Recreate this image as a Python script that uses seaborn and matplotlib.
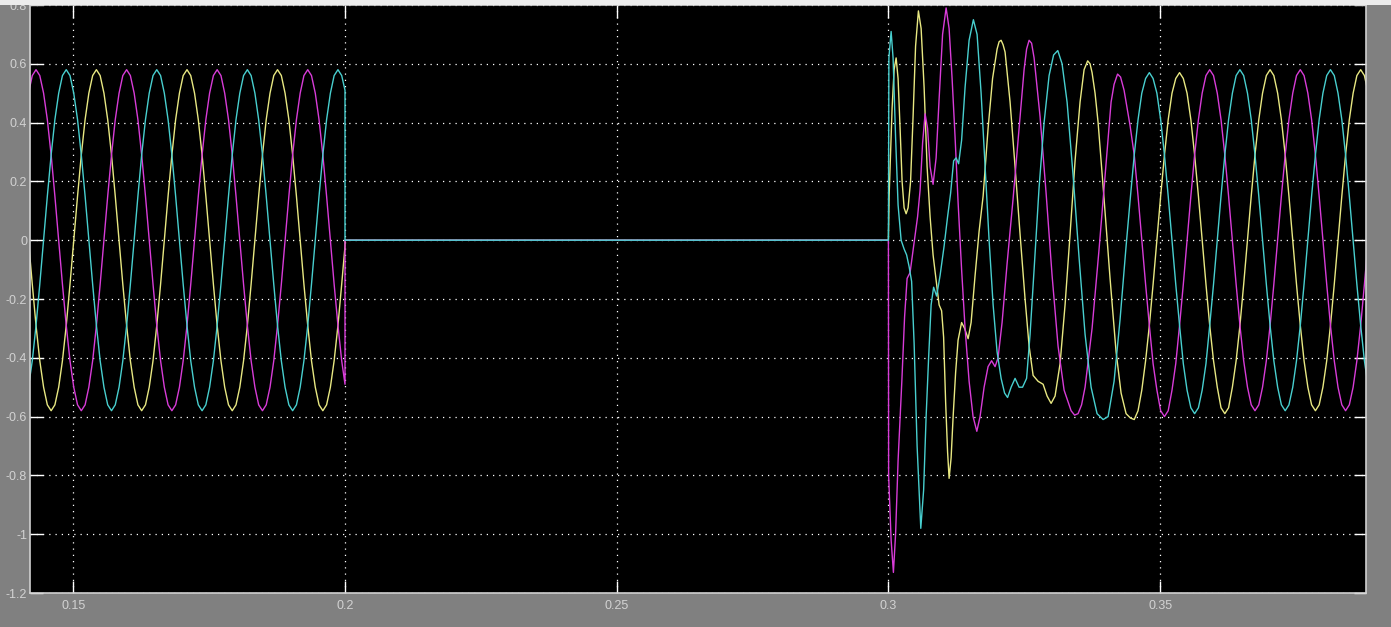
import numpy as np
import pandas as pd
import matplotlib
matplotlib.use('Agg')
import matplotlib.pyplot as plt
from matplotlib.patches import Rectangle
import seaborn as sns

# 故障前稳态采样 (s)
t_pre = [0.14175, 0.14245, 0.14314, 0.14383, 0.14453, 0.14522, 0.14592, 0.14661, 0.14731, 0.14800,
         0.14870, 0.14939, 0.15008, 0.15078, 0.15147, 0.15217, 0.15286, 0.15356, 0.15425, 0.15494,
         0.15564, 0.15633, 0.15703, 0.15772, 0.15842, 0.15911, 0.15981, 0.16050, 0.16120, 0.16189,
         0.16258, 0.16328, 0.16397, 0.16467, 0.16536, 0.16606, 0.16675, 0.16744, 0.16814, 0.16883,
         0.16953, 0.17022, 0.17092, 0.17161, 0.17231, 0.17300, 0.17370, 0.17439, 0.17508, 0.17578,
         0.17647, 0.17717, 0.17786, 0.17856, 0.17925, 0.17994, 0.18064, 0.18133, 0.18203, 0.18272,
         0.18342, 0.18411, 0.18481, 0.18550, 0.18620, 0.18689, 0.18758, 0.18828, 0.18897, 0.18967,
         0.19036, 0.19106, 0.19175, 0.19244, 0.19314, 0.19383, 0.19453, 0.19522, 0.19592, 0.19661,
         0.19731, 0.19800, 0.19870, 0.19939]
yellow_pre = [0.00, -0.15, -0.29, -0.41, -0.50, -0.56, -0.58, -0.56, -0.50, -0.41,
              -0.29, -0.15, 0.00, 0.15, 0.29, 0.41, 0.50, 0.56, 0.58, 0.56,
              0.50, 0.41, 0.29, 0.15, 0.00, -0.15, -0.29, -0.41, -0.50, -0.56,
              -0.58, -0.56, -0.50, -0.41, -0.29, -0.15, 0.00, 0.15, 0.29, 0.41,
              0.50, 0.56, 0.58, 0.56, 0.50, 0.41, 0.29, 0.15, 0.00, -0.15,
              -0.29, -0.41, -0.50, -0.56, -0.58, -0.56, -0.50, -0.41, -0.29, -0.15,
              0.00, 0.15, 0.29, 0.41, 0.50, 0.56, 0.58, 0.56, 0.50, 0.41,
              0.29, 0.15, 0.00, -0.15, -0.29, -0.41, -0.50, -0.56, -0.58, -0.56,
              -0.50, -0.41, -0.29, -0.15]
magenta_pre = [0.50, 0.56, 0.58, 0.56, 0.50, 0.41, 0.29, 0.15, 0.00, -0.15,
               -0.29, -0.41, -0.50, -0.56, -0.58, -0.56, -0.50, -0.41, -0.29, -0.15,
               0.00, 0.15, 0.29, 0.41, 0.50, 0.56, 0.58, 0.56, 0.50, 0.41,
               0.29, 0.15, 0.00, -0.15, -0.29, -0.41, -0.50, -0.56, -0.58, -0.56,
               -0.50, -0.41, -0.29, -0.15, 0.00, 0.15, 0.29, 0.41, 0.50, 0.56,
               0.58, 0.56, 0.50, 0.41, 0.29, 0.15, 0.00, -0.15, -0.29, -0.41,
               -0.50, -0.56, -0.58, -0.56, -0.50, -0.41, -0.29, -0.15, 0.00, 0.15,
               0.29, 0.41, 0.50, 0.56, 0.58, 0.56, 0.50, 0.41, 0.29, 0.15,
               0.00, -0.15, -0.29, -0.41]
cyan_pre = [-0.50, -0.41, -0.29, -0.15, 0.00, 0.15, 0.29, 0.41, 0.50, 0.56,
            0.58, 0.56, 0.50, 0.41, 0.29, 0.15, 0.00, -0.15, -0.29, -0.41,
            -0.50, -0.56, -0.58, -0.56, -0.50, -0.41, -0.29, -0.15, 0.00, 0.15,
            0.29, 0.41, 0.50, 0.56, 0.58, 0.56, 0.50, 0.41, 0.29, 0.15,
            0.00, -0.15, -0.29, -0.41, -0.50, -0.56, -0.58, -0.56, -0.50, -0.41,
            -0.29, -0.15, 0.00, 0.15, 0.29, 0.41, 0.50, 0.56, 0.58, 0.56,
            0.50, 0.41, 0.29, 0.15, 0.00, -0.15, -0.29, -0.41, -0.50, -0.56,
            -0.58, -0.56, -0.50, -0.41, -0.29, -0.15, 0.00, 0.15, 0.29, 0.41,
            0.50, 0.56, 0.58, 0.56]

# 故障开始 / 切除时刻
T_FAULT = 0.2
T_CLEAR = 0.3
yellow_at_fault = -0.02
magenta_at_fault = -0.49
cyan_at_fault = 0.51

# 故障切除后的暂态过程
t_tr_yellow = [0.30013, 0.30068, 0.30105, 0.30142, 0.30178, 0.30215, 0.30252, 0.30289, 0.30326, 0.30362,
               0.30408, 0.30454, 0.30500, 0.30552, 0.30602, 0.30657, 0.30712, 0.30767, 0.30822, 0.30887,
               0.30933, 0.30979, 0.31016, 0.31053, 0.31089, 0.31117, 0.31154, 0.31191, 0.31237, 0.31282,
               0.31347, 0.31402, 0.31467, 0.31522, 0.31595, 0.31669, 0.31743, 0.31834, 0.31917, 0.32000,
               0.32037, 0.32074, 0.32110, 0.32147, 0.32239, 0.32331, 0.32423, 0.32515, 0.32589, 0.32663,
               0.32755, 0.32847, 0.32920, 0.32994, 0.33067, 0.33159, 0.33251, 0.33343, 0.33435, 0.33527,
               0.33601, 0.33667, 0.33711, 0.33748, 0.33803, 0.33859, 0.33969, 0.34079, 0.34190, 0.34282,
               0.34374, 0.34455]
v_tr_yellow = [0.15, 0.45, 0.58, 0.62, 0.55, 0.38, 0.20, 0.11, 0.09, 0.11,
               0.20, 0.42, 0.66, 0.78, 0.72, 0.52, 0.25, 0.08, -0.05, -0.15,
               -0.22, -0.24, -0.33, -0.55, -0.72, -0.81, -0.74, -0.60, -0.45, -0.34,
               -0.28, -0.30, -0.335, -0.28, -0.12, 0.03, 0.15, 0.38, 0.55, 0.65,
               0.675, 0.68, 0.665, 0.64, 0.47, 0.25, 0.02, -0.20, -0.36, -0.46,
               -0.48, -0.49, -0.53, -0.555, -0.53, -0.42, -0.22, 0.02, 0.27, 0.47,
               0.58, 0.61, 0.60, 0.57, 0.50, 0.40, 0.14, -0.13, -0.38, -0.52,
               -0.59, -0.605]

t_tr_magenta = [0.30004, 0.30050, 0.30092, 0.30132, 0.30178, 0.30247, 0.30298, 0.30344, 0.30399, 0.30464,
                0.30537, 0.30583, 0.30629, 0.30675, 0.30721, 0.30767, 0.30822, 0.30878, 0.30933, 0.30997,
                0.31062, 0.31117, 0.31172, 0.31227, 0.31282, 0.31347, 0.31411, 0.31485, 0.31558, 0.31627,
                0.31687, 0.31761, 0.31834, 0.31899, 0.31963, 0.32018, 0.32092, 0.32184, 0.32294, 0.32405,
                0.32497, 0.32543, 0.32589, 0.32635, 0.32681, 0.32791, 0.32902, 0.33012, 0.33122, 0.33233,
                0.33362, 0.33426, 0.33490, 0.33555, 0.33619, 0.33748, 0.33877, 0.33987, 0.34098, 0.34153,
                0.34217, 0.34272, 0.34337, 0.34447]
v_tr_magenta = [-0.80, -1.02, -1.13, -1.00, -0.75, -0.48, -0.26, -0.13, -0.11, -0.02,
                0.08, 0.17, 0.33, 0.43, 0.38, 0.25, 0.19, 0.28, 0.48, 0.70,
                0.79, 0.72, 0.55, 0.35, 0.13, -0.10, -0.30, -0.48, -0.60, -0.65,
                -0.60, -0.50, -0.43, -0.41, -0.43, -0.40, -0.28, -0.08, 0.14, 0.38,
                0.58, 0.65, 0.68, 0.67, 0.62, 0.42, 0.16, -0.12, -0.36, -0.51,
                -0.58, -0.595, -0.59, -0.56, -0.50, -0.30, -0.03, 0.22, 0.47, 0.53,
                0.565, 0.555, 0.51, 0.39]

t_tr_cyan = [0.30009, 0.30050, 0.30086, 0.30132, 0.30178, 0.30234, 0.30289, 0.30335, 0.30381, 0.30427,
             0.30473, 0.30528, 0.30596, 0.30648, 0.30694, 0.30740, 0.30786, 0.30832, 0.30887, 0.30951,
             0.31025, 0.31089, 0.31145, 0.31200, 0.31246, 0.31292, 0.31347, 0.31411, 0.31485, 0.31564,
             0.31632, 0.31706, 0.31779, 0.31853, 0.31927, 0.32000, 0.32074, 0.32138, 0.32193, 0.32258,
             0.32331, 0.32405, 0.32469, 0.32543, 0.32607, 0.32681, 0.32773, 0.32865, 0.32957, 0.33040,
             0.33117, 0.33196, 0.33288, 0.33399, 0.33509, 0.33619, 0.33730, 0.33840, 0.33951, 0.34043,
             0.34153, 0.34263, 0.34374, 0.34455]
v_tr_cyan = [0.62, 0.71, 0.62, 0.35, 0.12, 0.00, -0.03, -0.05, -0.09, -0.14,
             -0.35, -0.70, -0.98, -0.85, -0.60, -0.40, -0.22, -0.16, -0.19, -0.12,
             -0.02, 0.08, 0.16, 0.27, 0.28, 0.26, 0.34, 0.52, 0.68, 0.75,
             0.70, 0.50, 0.25, 0.00, -0.22, -0.38, -0.47, -0.52, -0.535, -0.50,
             -0.47, -0.50, -0.50, -0.47, -0.32, -0.10, 0.18, 0.40, 0.56, 0.63,
             0.645, 0.60, 0.47, 0.22, -0.06, -0.32, -0.50, -0.59, -0.61, -0.60,
             -0.48, -0.27, -0.02, 0.15]

# 恢复后的稳态采样
t_steady = [0.34524, 0.34594, 0.34663, 0.34733, 0.34802, 0.34871, 0.34941, 0.35010, 0.35080, 0.35149,
            0.35219, 0.35288, 0.35358, 0.35427, 0.35496, 0.35566, 0.35635, 0.35705, 0.35774, 0.35844,
            0.35913, 0.35983, 0.36052, 0.36121, 0.36191, 0.36260, 0.36330, 0.36399, 0.36469, 0.36538,
            0.36608, 0.36677, 0.36746, 0.36816, 0.36885, 0.36955, 0.37024, 0.37093, 0.37163, 0.37232,
            0.37302, 0.37371, 0.37441, 0.37510, 0.37580, 0.37649, 0.37719, 0.37788, 0.37858, 0.37927,
            0.37996, 0.38066, 0.38135, 0.38205, 0.38274, 0.38344, 0.38413, 0.38482, 0.38552, 0.38621,
            0.38691, 0.38760, 0.38830]
yellow_steady = [-0.61, -0.58, -0.51, -0.41, -0.29, -0.15, 0.00, 0.15, 0.29, 0.41,
                 0.50, 0.55, 0.57, 0.55, 0.50, 0.41, 0.29, 0.15, 0.00, -0.15,
                 -0.29, -0.41, -0.50, -0.57, -0.59, -0.57, -0.50, -0.41, -0.29, -0.15,
                 0.00, 0.15, 0.29, 0.41, 0.50, 0.56, 0.58, 0.56, 0.50, 0.41,
                 0.29, 0.15, 0.00, -0.15, -0.29, -0.41, -0.50, -0.56, -0.58, -0.56,
                 -0.50, -0.41, -0.29, -0.15, 0.00, 0.15, 0.29, 0.41, 0.50, 0.56,
                 0.58, 0.56, 0.50]
magenta_steady = [0.29, 0.15, 0.00, -0.15, -0.29, -0.42, -0.51, -0.58, -0.60, -0.58,
                  -0.51, -0.42, -0.29, -0.15, 0.00, 0.15, 0.29, 0.41, 0.50, 0.56,
                  0.58, 0.56, 0.50, 0.41, 0.29, 0.15, 0.00, -0.15, -0.29, -0.41,
                  -0.50, -0.56, -0.58, -0.56, -0.50, -0.41, -0.29, -0.15, 0.00, 0.15,
                  0.29, 0.41, 0.50, 0.56, 0.58, 0.56, 0.50, 0.41, 0.29, 0.15,
                  0.00, -0.15, -0.29, -0.41, -0.50, -0.56, -0.58, -0.56, -0.50, -0.41,
                  -0.29, -0.15, 0.00]
cyan_steady = [0.29, 0.41, 0.50, 0.55, 0.57, 0.55, 0.50, 0.41, 0.29, 0.15,
               0.00, -0.15, -0.29, -0.42, -0.51, -0.57, -0.59, -0.57, -0.51, -0.42,
               -0.29, -0.15, 0.00, 0.15, 0.29, 0.41, 0.50, 0.56, 0.58, 0.56,
               0.50, 0.41, 0.29, 0.15, 0.00, -0.15, -0.29, -0.41, -0.50, -0.56,
               -0.58, -0.56, -0.50, -0.41, -0.29, -0.15, 0.00, 0.15, 0.29, 0.41,
               0.50, 0.56, 0.58, 0.56, 0.50, 0.41, 0.29, 0.15, 0.00, -0.15,
               -0.29, -0.41, -0.50]

x_ticks = [0.15, 0.2, 0.25, 0.3, 0.35]
x_labels = ['0.15', '0.2', '0.25', '0.3', '0.35']
y_ticks = [-1.2, -1.0, -0.8, -0.6, -0.4, -0.2, 0.0, 0.2, 0.4, 0.6, 0.8]
y_labels = ['-1.2', '-1', '-0.8', '-0.6', '-0.4', '-0.2', '0', '0.2', '0.4', '0.6', '0.8']

colors = {'yellow': '#e8e882', 'magenta': '#d83cd8', 'cyan': '#48cfcf'}


def trace(name, pre, v_fault, t_tr, v_tr, steady):
    t = t_pre + [T_FAULT, T_FAULT, T_CLEAR] + t_tr + t_steady
    v = pre + [v_fault, 0.0, 0.0] + v_tr + steady
    return pd.DataFrame({'t': t, 'v': v, 'phase': name})


df = pd.concat([
    trace('yellow', yellow_pre, yellow_at_fault, t_tr_yellow, v_tr_yellow, yellow_steady),
    trace('magenta', magenta_pre, magenta_at_fault, t_tr_magenta, v_tr_magenta, magenta_steady),
    trace('cyan', cyan_pre, cyan_at_fault, t_tr_cyan, v_tr_cyan, cyan_steady),
], ignore_index=True)

fig = plt.figure(figsize=(13.91, 6.27), dpi=100, facecolor='#808080')
ax = fig.add_axes([30 / 1391, 34 / 627, 1336 / 1391, 588 / 627])
ax.set_facecolor('black')

sns.lineplot(data=df, x='t', y='v', hue='phase', hue_order=['yellow', 'magenta', 'cyan'],
             palette=colors, estimator=None, sort=False, linewidth=1.0, legend=False, ax=ax)

ax.set_xlim(0.14203, 0.38789)
ax.set_ylim(-1.2, 0.8)
ax.set_xticks(x_ticks)
ax.set_xticklabels(x_labels)
ax.set_yticks(y_ticks)
ax.set_yticklabels(y_labels)
ax.set_xlabel('')
ax.set_ylabel('')

ax.grid(True, color='white', linestyle=(0, (1, 4)), linewidth=0.9)
ax.tick_params(axis='both', direction='in', length=9, width=1.0, color='white',
               top=True, right=True, labelcolor='#d2d2d2', labelsize=9)
ax.tick_params(axis='x', pad=5)
ax.tick_params(axis='y', pad=2)
for lab in ax.get_xticklabels() + ax.get_yticklabels():
    lab.set_family('Liberation Sans')
for sp in ax.spines.values():
    sp.set_color('#d0d0d0')
    sp.set_linewidth(1.2)

# 顶部窗口边框
fig.patches.append(Rectangle((0, 1 - 5 / 627), 1, 5 / 627, transform=fig.transFigure,
                             facecolor='#ececec', edgecolor='none', zorder=10))

fig.savefig('out.png', dpi=100, facecolor=fig.get_facecolor())
